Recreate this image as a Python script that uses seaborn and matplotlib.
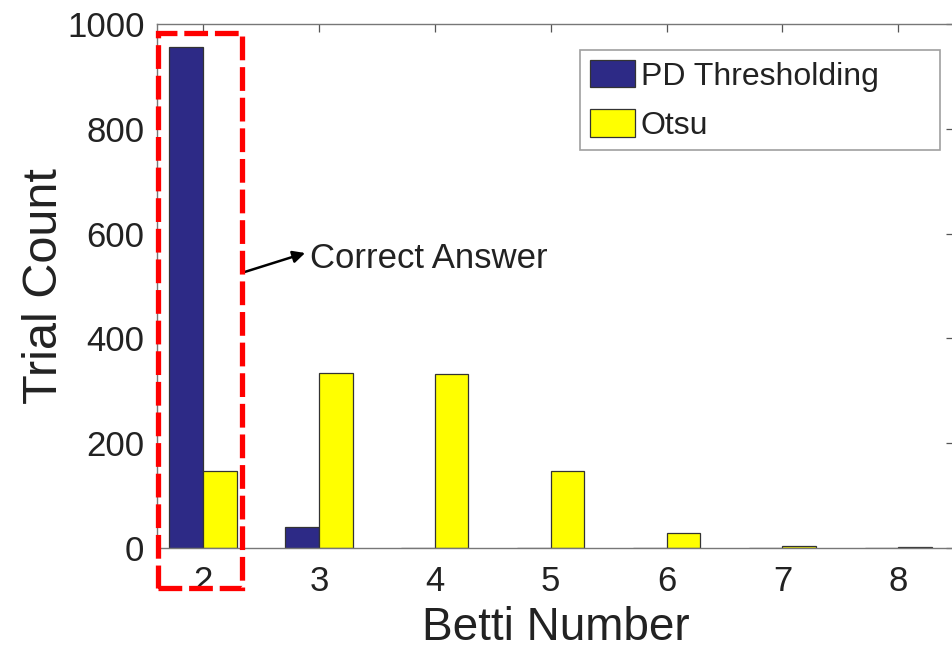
import matplotlib
matplotlib.use("Agg")
import matplotlib.pyplot as plt
from matplotlib.patches import Rectangle
import seaborn as sns
import pandas as pd

betti = ["2", "3", "4", "5", "6", "7", "8"]
pd_thresholding = [957, 40, 0, 0, 0, 0, 0]
otsu = [147, 334, 333, 147, 29, 4, 1]
methods = ["PD Thresholding", "Otsu"]

df = pd.DataFrame({
    "Betti Number": betti * 2,
    "Trial Count": pd_thresholding + otsu,
    "Method": [methods[0]] * len(betti) + [methods[1]] * len(betti),
})

sns.set_theme(style="white")
plt.rcParams["font.family"] = ["Liberation Sans", "DejaVu Sans"]
txt = "#222222"

fig = plt.figure(figsize=(9.53, 6.49), dpi=100)
ax = fig.add_axes([157 / 953, 1 - 548 / 649, (954 - 157) / 953, (548 - 24) / 649])

sns.barplot(data=df, x="Betti Number", y="Trial Count", hue="Method",
            order=betti, hue_order=methods,
            palette={methods[0]: "#2D2A86", methods[1]: "#FFFF00"},
            width=0.58, edgecolor="#333333", linewidth=0.9,
            saturation=1, ax=ax, legend=True)

ax.set_xlim(-0.397, 6.48)
ax.set_ylim(0, 1000)
ax.set_yticks([0, 200, 400, 600, 800, 1000])
ax.tick_params(axis="both", which="major", direction="in", length=6, width=0.9,
               color="#555555", labelsize=25, labelcolor=txt,
               top=True, right=True)
ax.tick_params(axis="x", pad=12)
ax.tick_params(axis="y", pad=9)
for s in ax.spines.values():
    s.set_color("#777777")
    s.set_linewidth(1.0)
ax.set_xlabel("Betti Number", fontsize=33, color=txt, labelpad=6)
ax.set_ylabel("Trial Count", fontsize=35, color=txt, labelpad=0)

leg = ax.legend(loc="upper left", bbox_to_anchor=(0.531, 0.5, 0.452, 0.45),
                mode="expand", borderaxespad=0, fontsize=23, frameon=True,
                fancybox=False, handlelength=1.4, handleheight=0.95,
                handletextpad=0.2, labelspacing=0.55, borderpad=0.3)
leg.get_frame().set_edgecolor("#888888")
leg.get_frame().set_linewidth(1.2)
for t in leg.get_texts():
    t.set_color(txt)

# red dashed highlight box around Betti number 2
rect = Rectangle((-0.388, -76), 0.725, 1059, fill=False, edgecolor="#FF0000",
                 linewidth=3.8, linestyle=(0, (4.5, 1.3)), clip_on=False, zorder=5)
ax.add_patch(rect)

ax.annotate("", xy=(0.881, 563), xytext=(0.363, 527),
            arrowprops=dict(arrowstyle="-|>", color="black", lw=1.8,
                            mutation_scale=18, shrinkA=0, shrinkB=0))
ax.text(0.924, 552, "Correct Answer", fontsize=25, color=txt,
        ha="left", va="center")

fig.savefig("out.png", dpi=100)
